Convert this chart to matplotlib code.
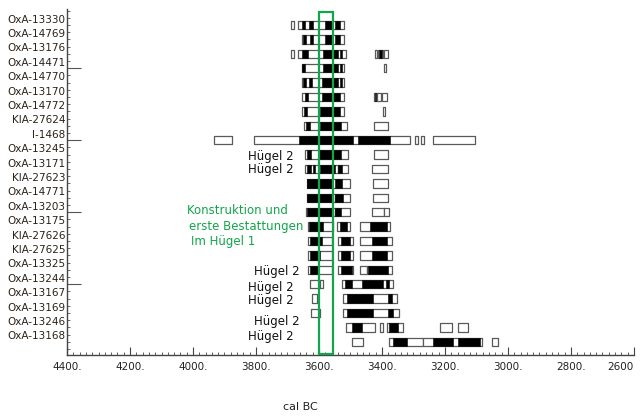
import matplotlib
matplotlib.use('Agg')
import numpy as np
import matplotlib.pyplot as plt
import matplotlib.transforms as mtransforms
from matplotlib.patches import Rectangle
from matplotlib.ticker import MultipleLocator

# sample labels, top to bottom
labels = ['OxA-13330', 'OxA-14769', 'OxA-13176', 'OxA-14471', 'OxA-14770',
          'OxA-13170', 'OxA-14772', 'KIA-27624', 'I-1468', 'OxA-13245',
          'OxA-13171', 'KIA-27623', 'OxA-14771', 'OxA-13203', 'OxA-13175',
          'KIA-27626', 'KIA-27625', 'OxA-13325', 'OxA-13244', 'OxA-13167',
          'OxA-13169', 'OxA-13246', 'OxA-13168']

# 95.4% ranges (cal BC, from, to) per sample
ranges95 = [
    [(3689, 3679), (3667, 3521)],
    [(3655, 3521)],
    [(3689, 3679), (3667, 3514), (3422, 3416), (3413, 3397), (3394, 3381)],
    [(3655, 3521), (3393, 3387)],
    [(3655, 3521)],
    [(3655, 3521), (3425, 3416), (3416, 3403), (3400, 3384)],
    [(3655, 3521), (3397, 3389)],
    [(3648, 3511), (3425, 3381)],
    [(3933, 3876), (3806, 3311), (3295, 3286), (3276, 3267), (3238, 3105)],
    [(3644, 3508), (3425, 3381)],
    [(3644, 3540), (3540, 3508), (3432, 3381)],
    [(3638, 3540), (3540, 3502), (3429, 3381)],
    [(3638, 3549), (3549, 3502), (3429, 3381)],
    [(3641, 3549), (3549, 3500), (3432, 3394), (3394, 3378)],
    [(3635, 3556), (3543, 3502), (3470, 3375)],
    [(3635, 3559), (3540, 3492), (3470, 3368)],
    [(3635, 3559), (3540, 3492), (3470, 3368)],
    [(3635, 3559), (3540, 3492), (3470, 3448), (3448, 3368)],
    [(3629, 3597), (3597, 3587), (3527, 3365)],
    [(3622, 3606), (3524, 3352)],
    [(3625, 3597), (3524, 3346)],
    [(3514, 3422), (3406, 3397), (3384, 3333), (3216, 3178), (3159, 3127)],
    [(3495, 3460), (3378, 3270), (3270, 3083), (3051, 3032)],
]

# 68.2% ranges per sample
ranges68 = [
    [(3654, 3644), (3632, 3619), (3581, 3556), (3549, 3533)],
    [(3651, 3641), (3629, 3619), (3581, 3556), (3549, 3533)],
    [(3654, 3635), (3587, 3540), (3533, 3527), (3410, 3400)],
    [(3654, 3644), (3587, 3540), (3533, 3527)],
    [(3651, 3641), (3632, 3622), (3590, 3540), (3533, 3527)],
    [(3644, 3635), (3590, 3533), (3422, 3419)],
    [(3648, 3638), (3597, 3533)],
    [(3641, 3629), (3597, 3530)],
    [(3663, 3492), (3476, 3375)],
    [(3639, 3626), (3600, 3530)],
    [(3638, 3626), (3619, 3612), (3597, 3549), (3540, 3527)],
    [(3638, 3556), (3549, 3527)],
    [(3638, 3556), (3549, 3524)],
    [(3638, 3556), (3549, 3530)],
    [(3632, 3587), (3533, 3511), (3438, 3384)],
    [(3629, 3590), (3530, 3502), (3432, 3384)],
    [(3629, 3597), (3530, 3502), (3432, 3384)],
    [(3629, 3603), (3530, 3495), (3444, 3381)],
    [(3517, 3495), (3463, 3397), (3387, 3378)],
    [(3511, 3429), (3381, 3368)],
    [(3511, 3429), (3381, 3365)],
    [(3495, 3463), (3378, 3349)],
    [(3365, 3321), (3238, 3175), (3159, 3089)],
]

# "Hügel 2" annotations: row position and left x (cal BC)
huegel2_rows = [9.1, 10.05, 17.15, 18.2, 19.1, 20.6, 21.6]
huegel2_x = [3825, 3825, 3806, 3825, 3825, 3806, 3825]

phase_from, phase_to = 3600, 3557
green = '#12a54c'

fig = plt.figure(figsize=(6.43, 4.16), dpi=100)
ax = fig.add_axes([0.1042, 0.1466, 0.8818, 0.8317])

h = 0.58
for i, (r95, r68) in enumerate(zip(ranges95, ranges68)):
    ax.broken_barh([(b, a - b) for a, b in r95], (i - h / 2, h),
                   facecolor='white', edgecolor='#5a5a5a', linewidth=0.9)
    ax.broken_barh([(b, a - b) for a, b in r68], (i - h / 2, h),
                   facecolor='black', edgecolor='black', linewidth=0.4)

ax.set_xlim(4400, 2600)
ax.set_ylim(22.92, -1.11)

# phase box
ax.add_patch(Rectangle((phase_to, -0.87), phase_from - phase_to, 23.75,
                       fill=False, edgecolor=green, linewidth=1.6,
                       clip_on=False, zorder=5))

ax.text(4019, 12.85, 'Konstruktion und', color=green, fontsize=8.5, va='center')
ax.text(4013, 13.96, 'erste Bestattungen', color=green, fontsize=8.5, va='center')
ax.text(4006, 15.07, 'Im Hügel 1', color=green, fontsize=8.5, va='center')

for r, x in zip(huegel2_rows, huegel2_x):
    ax.text(x, r, 'Hügel 2', fontsize=8.5, va='center', color='#111111')

# sample labels sit a bit above their bars
trans = mtransforms.blended_transform_factory(ax.transAxes, ax.transData)
for i, lab in enumerate(labels):
    ax.text(-0.003, i - 0.38, lab, transform=trans, ha='right', va='center',
            fontsize=7.5, color='#2a2218')

xt = np.arange(4400, 2599, -200)
ax.set_xticks(xt)
ax.set_xticklabels([f'{t}.' for t in xt[:-1]] + [f'{xt[-1]}'])
ax.get_xticklabels()[-1].set_horizontalalignment('right')
ax.xaxis.set_minor_locator(MultipleLocator(20))
ax.tick_params(axis='x', which='major', direction='in', length=6,
               labelsize=7.5, pad=5, color='#444444', labelcolor='#222222')
ax.tick_params(axis='x', which='minor', direction='in', length=2.5,
               color='#444444')

ax.set_yticks([3, 8, 13, 18])
ax.set_yticklabels([])
ax.yaxis.set_minor_locator(MultipleLocator(0.5))
ax.tick_params(axis='y', which='major', direction='in', length=10,
               color='#555555')
ax.tick_params(axis='y', which='minor', direction='in', length=2,
               color='#555555')

for s in ['top', 'right']:
    ax.spines[s].set_visible(False)
for s in ['left', 'bottom']:
    ax.spines[s].set_color('#444444')
    ax.spines[s].set_linewidth(1.0)

fig.text(300 / 643, 1 - 407 / 416, 'cal BC', ha='center', va='center',
         fontsize=8, color='#222222')

fig.savefig('out.png', dpi=100)
